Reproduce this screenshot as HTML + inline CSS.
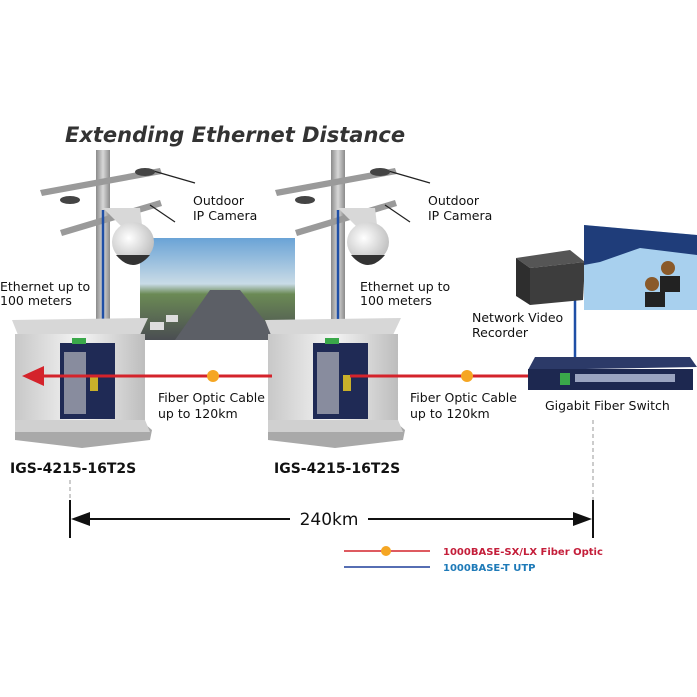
<!DOCTYPE html>
<html><head><meta charset="utf-8"><style>
html,body{margin:0;padding:0;background:#fff}
svg{display:block}
text{font-family:"DejaVu Sans","Liberation Sans",sans-serif}
</style></head><body>
<svg width="697" height="697" viewBox="0 0 697 697" xmlns="http://www.w3.org/2000/svg">
<defs>
<linearGradient id="wall" x1="0" x2="1"><stop offset="0" stop-color="#c8c8c8"/><stop offset="0.5" stop-color="#f4f4f4"/><stop offset="1" stop-color="#bdbdbd"/></linearGradient>
<linearGradient id="pole" x1="0" x2="1"><stop offset="0" stop-color="#8a8a8a"/><stop offset="0.5" stop-color="#d8d8d8"/><stop offset="1" stop-color="#8a8a8a"/></linearGradient>
<linearGradient id="sky" x1="0" y1="0" x2="0" y2="1"><stop offset="0" stop-color="#6aa3d6"/><stop offset="0.45" stop-color="#c9dbe6"/><stop offset="0.55" stop-color="#6b8a55"/><stop offset="1" stop-color="#4a4d52"/></linearGradient>
<radialGradient id="cam" cx="0.4" cy="0.4" r="0.7"><stop offset="0" stop-color="#fff"/><stop offset="1" stop-color="#b9b9b9"/></radialGradient>
</defs>

<text x="65" y="142" font-size="21" font-weight="bold" font-style="italic" fill="#333">Extending Ethernet Distance</text>

<!-- poles -->
<g id="p1">
<rect x="96" y="150" width="14" height="180" fill="url(#pole)"/>
<polygon points="40,190 160,168 162,174 42,196" fill="#9a9a9a"/>
<polygon points="60,230 160,200 162,206 62,236" fill="#9a9a9a"/>
<line x1="150" y1="170" x2="195" y2="183" stroke="#222" stroke-width="1.2"/>
<line x1="150" y1="205" x2="175" y2="222" stroke="#222" stroke-width="1.2"/>
<ellipse cx="145" cy="172" rx="10" ry="4" fill="#444"/>
<ellipse cx="70" cy="200" rx="10" ry="4" fill="#444"/>
<line x1="103" y1="210" x2="103" y2="345" stroke="#1f4fa6" stroke-width="2.5"/>
</g>
<use href="#p1" x="235"/>

<!-- photo -->
<rect x="140" y="238" width="155" height="102" fill="url(#sky)"/>
<polygon points="175,340 210,290 240,290 280,340" fill="#5c5f66"/>
<rect x="150" y="322" width="14" height="8" fill="#ddd"/>
<rect x="166" y="315" width="12" height="7" fill="#ddd"/>

<!-- cameras -->
<g id="c1">
<path d="M103,208 L140,208 L142,225 L125,230 Z" fill="#d8d8d8"/>
<ellipse cx="133" cy="242" rx="21" ry="20" fill="url(#cam)"/>
<path d="M116,255 Q133,275 150,255 Z" fill="#333"/>
</g>
<use href="#c1" x="235"/>

<text x="193" y="205" font-size="12.5" fill="#111">Outdoor</text>
<text x="193" y="220" font-size="12.5" fill="#111">IP Camera</text>
<text x="428" y="205" font-size="12.5" fill="#111">Outdoor</text>
<text x="428" y="220" font-size="12.5" fill="#111">IP Camera</text>
<text x="0" y="291" font-size="12.5" fill="#111">Ethernet up to</text>
<text x="0" y="305" font-size="12.5" fill="#111">100 meters</text>
<text x="360" y="291" font-size="12.5" fill="#111">Ethernet up to</text>
<text x="360" y="305" font-size="12.5" fill="#111">100 meters</text>

<!-- enclosures -->
<g id="e1">
<polygon points="12,320 148,318 140,335 18,335" fill="#d7d7d7"/>
<rect x="15" y="334" width="130" height="90" fill="url(#wall)"/>
<polygon points="15,424 145,424 152,430 150,440 82,448 15,440" fill="#a9a9a9"/>
<polygon points="15,420 145,420 150,432 15,432" fill="#d0d0d0"/>
<rect x="60" y="343" width="55" height="76" fill="#1f2a55"/>
<rect x="72" y="338" width="14" height="6" fill="#3aa84a"/>
<rect x="64" y="352" width="22" height="62" fill="#cfcfcf" opacity="0.6"/>
<rect x="90" y="375" width="8" height="16" fill="#c9b02a"/>
</g>
<use href="#e1" x="253"/>

<!-- fiber lines -->
<line x1="40" y1="376" x2="272" y2="376" stroke="#d4232b" stroke-width="3"/>
<polygon points="22,376 44,366 44,386" fill="#d4232b"/>
<line x1="350" y1="376" x2="530" y2="376" stroke="#d4232b" stroke-width="3"/>
<circle cx="213" cy="376" r="6" fill="#f5a623"/>
<circle cx="467" cy="376" r="6" fill="#f5a623"/>

<text x="158" y="402" font-size="12.5" fill="#111">Fiber Optic Cable</text>
<text x="158" y="418" font-size="12.5" fill="#111">up to 120km</text>
<text x="410" y="402" font-size="12.5" fill="#111">Fiber Optic Cable</text>
<text x="410" y="418" font-size="12.5" fill="#111">up to 120km</text>

<!-- NVR -->
<line x1="575" y1="300" x2="575" y2="360" stroke="#1f4fa6" stroke-width="2.5"/>
<polygon points="516,258 570,250 585,262 530,268" fill="#555"/>
<polygon points="516,258 530,268 530,305 516,296" fill="#2e2e2e"/>
<polygon points="530,268 585,262 583,300 530,305" fill="#3d3d3d"/>
<text x="472" y="322" font-size="12.5" fill="#111">Network Video</text>
<text x="472" y="337" font-size="12.5" fill="#111">Recorder</text>

<!-- control room -->
<polygon points="584,225 697,235 697,310 584,310" fill="#a8d0ee"/>
<polygon points="584,225 697,235 697,255 640,248 600,262 584,265" fill="#1f3d7a"/>
<circle cx="668" cy="268" r="7" fill="#8a5a2a"/>
<rect x="660" y="276" width="20" height="16" fill="#222"/>
<circle cx="652" cy="284" r="7" fill="#8a5a2a"/>
<rect x="645" y="292" width="20" height="15" fill="#222"/>

<!-- gigabit switch -->
<polygon points="535,357 690,357 697,367 528,370" fill="#2c3a68"/>
<rect x="528" y="369" width="165" height="21" fill="#1d2850"/>
<rect x="560" y="373" width="10" height="12" fill="#3aa84a"/>
<rect x="575" y="374" width="100" height="8" fill="#9aa4c0"/>
<text x="545" y="410" font-size="12.5" fill="#111">Gigabit Fiber Switch</text>

<!-- labels -->
<text x="10" y="473" font-size="14" font-weight="bold" fill="#111">IGS-4215-16T2S</text>
<text x="274" y="473" font-size="14" font-weight="bold" fill="#111">IGS-4215-16T2S</text>

<!-- dimension -->
<line x1="70" y1="480" x2="70" y2="500" stroke="#999" stroke-dasharray="4,3"/>
<line x1="593" y1="420" x2="593" y2="500" stroke="#999" stroke-dasharray="4,3"/>
<line x1="70" y1="500" x2="70" y2="538" stroke="#111" stroke-width="2"/>
<line x1="593" y1="500" x2="593" y2="538" stroke="#111" stroke-width="2"/>
<line x1="80" y1="519" x2="290" y2="519" stroke="#111" stroke-width="2"/>
<line x1="368" y1="519" x2="583" y2="519" stroke="#111" stroke-width="2"/>
<polygon points="71,519 90,512 90,526" fill="#111"/>
<polygon points="592,519 573,512 573,526" fill="#111"/>
<text x="329" y="525" font-size="17" text-anchor="middle" fill="#111">240km</text>

<!-- legend -->
<line x1="344" y1="551" x2="430" y2="551" stroke="#d4232b" stroke-width="1.5"/>
<circle cx="386" cy="551" r="5" fill="#f5a623"/>
<line x1="344" y1="567" x2="430" y2="567" stroke="#1f3f9a" stroke-width="1.5"/>
<text x="443" y="555" font-size="10" font-weight="bold" fill="#c41e3a" font-family="Liberation Serif,serif">1000BASE-SX/LX Fiber Optic</text>
<text x="443" y="571" font-size="10" font-weight="bold" fill="#1e7ab8" font-family="Liberation Serif,serif">1000BASE-T UTP</text>
</svg>
</body></html>
